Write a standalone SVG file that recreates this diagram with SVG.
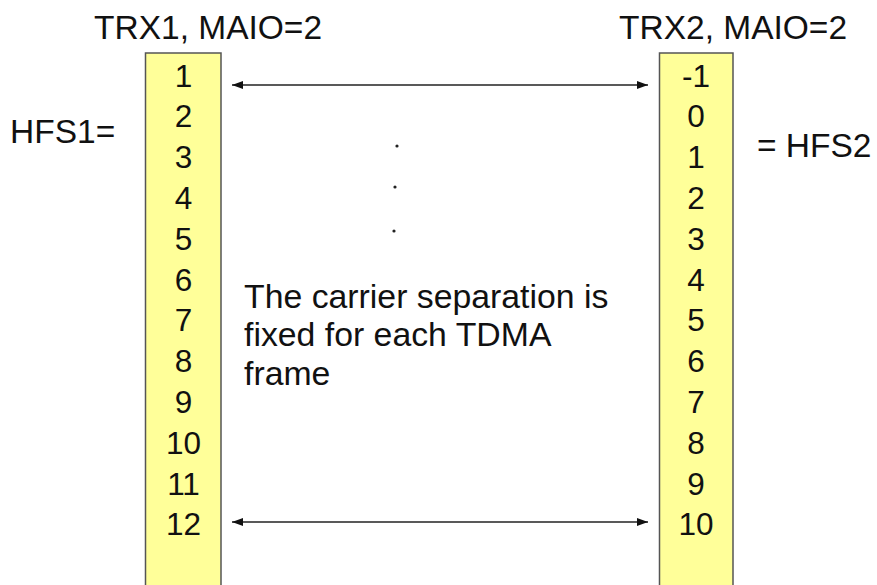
<svg xmlns="http://www.w3.org/2000/svg" width="877" height="585" viewBox="0 0 877 585">
<style>
text{font-family:"Liberation Sans",Arial,sans-serif;fill:#111}
.t{font-size:33.5px}
.n{font-size:31.5px;text-anchor:middle}
.c{font-size:33.8px}
.box{fill:#FFFF99;stroke:#555;stroke-width:1.5}
.arr{stroke:#222;stroke-width:1.5;fill:none;marker-start:url(#ah);marker-end:url(#ah)}
</style>
<defs>
<marker id="ah" markerWidth="12" markerHeight="10" refX="11" refY="5" orient="auto-start-reverse" markerUnits="userSpaceOnUse">
<path d="M0,1 L11,5 L0,9 Z" fill="#111"/>
</marker>
</defs>
<rect width="877" height="585" fill="#fff"/>
<g id="trx1">
<text class="t" x="94" y="39">TRX1, MAIO=2</text>
<rect class="box" x="145.5" y="53" width="75.5" height="540"/>
<text class="n" x="183.5" y="86.5">1</text>
<text class="n" x="183.5" y="127.3">2</text>
<text class="n" x="183.5" y="168.1">3</text>
<text class="n" x="183.5" y="208.9">4</text>
<text class="n" x="183.5" y="249.7">5</text>
<text class="n" x="183.5" y="290.5">6</text>
<text class="n" x="183.5" y="331.3">7</text>
<text class="n" x="183.5" y="372.1">8</text>
<text class="n" x="183.5" y="412.9">9</text>
<text class="n" x="183.5" y="453.7">10</text>
<text class="n" x="183.5" y="494.5">11</text>
<text class="n" x="183.5" y="535.3">12</text>
</g>
<g id="trx2">
<text class="t" x="619" y="39">TRX2, MAIO=2</text>
<rect class="box" x="659.5" y="53" width="73.5" height="540"/>
<text class="n" x="696" y="86.5">-1</text>
<text class="n" x="696" y="127.3">0</text>
<text class="n" x="696" y="168.1">1</text>
<text class="n" x="696" y="208.9">2</text>
<text class="n" x="696" y="249.7">3</text>
<text class="n" x="696" y="290.5">4</text>
<text class="n" x="696" y="331.3">5</text>
<text class="n" x="696" y="372.1">6</text>
<text class="n" x="696" y="412.9">7</text>
<text class="n" x="696" y="453.7">8</text>
<text class="n" x="696" y="494.5">9</text>
<text class="n" x="696" y="535.3">10</text>
</g>
<g id="hfs1"><text class="t" x="10" y="143">HFS1=</text></g>
<g id="hfs2"><text class="t" x="757" y="157">= HFS2</text></g>
<g id="note">
<text class="c" x="244" y="308">The carrier separation is</text>
<text class="c" x="244" y="346">fixed for each TDMA</text>
<text class="c" x="244" y="385">frame</text>
<circle cx="397" cy="146" r="1.6" fill="#222"/>
<circle cx="395" cy="187" r="1.6" fill="#222"/>
<circle cx="394" cy="231" r="1.6" fill="#222"/>
</g>
<g id="connectors">
<line class="arr" x1="232" y1="85" x2="648" y2="85"/>
<line class="arr" x1="232" y1="522" x2="648" y2="522"/>
</g>
</svg>
